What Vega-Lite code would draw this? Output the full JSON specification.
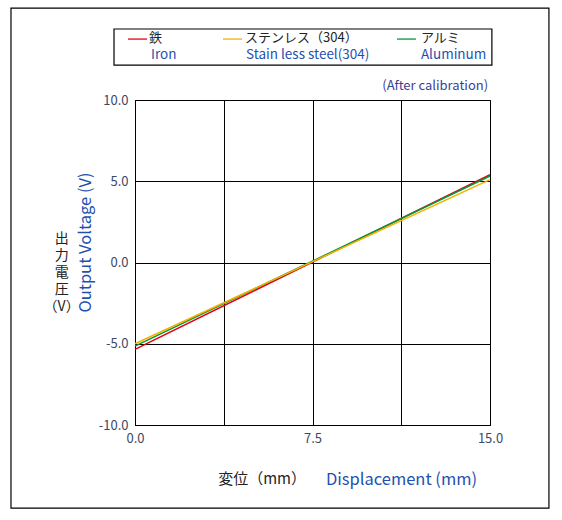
{
  "$schema": "https://vega.github.io/schema/vega-lite/v6.json",
  "width": 355,
  "height": 325,
  "autosize": {"type": "none"},
  "padding": {"left": 135, "top": 100, "right": 72, "bottom": 95},
  "background": "white",
  "data": {"values": [{}]},
  "config": {
    "font": "Noto Sans CJK JP",
    "view": {"stroke": "#000", "strokeWidth": 1},
    "axis": {
      "grid": true, "gridColor": "#000", "gridOpacity": 1, "gridWidth": 1,
      "domainColor": "#000", "ticks": false, "labelFontSize": 13, "labelColor": "#3c4868",
      "labelPadding": 7, "labelFont": "Noto Sans CJK JP", "titleFont": "Noto Sans CJK JP",
      "titleFontWeight": "normal", "titleColor": "#1f50b0", "titleFontSize": 16.5, "labelFlush": false
    }
  },
  "layer": [
    {
      "mark": {"type": "rect", "fill": null, "stroke": "#000", "strokeWidth": 1.2, "clip": false},
      "encoding": {
        "x": {"datum": -5.24, "type": "quantitative", "scale": {"domain": [0, 15], "nice": false, "zero": false}},
        "x2": {"datum": 17.49},
        "y": {"datum": 15.66, "type": "quantitative", "scale": {"domain": [-10, 10], "nice": false, "zero": false}},
        "y2": {"datum": -15.11}
      }
    },
    {
      "data": {"values": [
        {"series": "鉄", "x": 0, "y": -5.35},
        {"series": "鉄", "x": 15, "y": 5.4},
        {"series": "アルミ", "x": 0, "y": -5.15},
        {"series": "アルミ", "x": 15, "y": 5.32},
        {"series": "ステンレス", "x": 0, "y": -5.0},
        {"series": "ステンレス", "x": 15, "y": 5.1}
      ]},
      "mark": {"type": "line", "strokeWidth": 1.5},
      "encoding": {
        "x": {"field": "x", "type": "quantitative", "scale": {"domain": [0, 15], "nice": false, "zero": false},
          "axis": {"values": [0, 3.75, 7.5, 11.25, 15], "labelExpr": "datum.value % 7.5 == 0 ? format(datum.value, '.1f') : ''",
            "title": "Displacement (mm)", "titleX": 266, "titleY": 54, "titleBaseline": "middle", "titleAlign": "center"}},
        "y": {"field": "y", "type": "quantitative", "scale": {"domain": [-10, 10], "nice": false, "zero": false},
          "axis": {"values": [-10, -5, 0, 5, 10], "labelExpr": "replace(format(datum.value, '.1f'), '−', '-')",
            "title": "Output Voltage (V)", "titleX": -50, "titleY": 142, "titleBaseline": "middle", "titleAlign": "center", "titleAngle": -90}},
        "color": {"field": "series", "type": "nominal", "legend": null,
          "scale": {"domain": ["鉄", "アルミ", "ステンレス"], "range": ["#e60012", "#00983a", "#f5b000"]}},
        "order": {"field": "series"}
      }
    },
    {
      "mark": {"type": "text", "fontSize": 14, "lineHeight": 17, "color": "#222", "align": "center", "baseline": "middle", "lineBreak": "\n"},
      "encoding": {
        "x": {"datum": -3.1, "type": "quantitative"},
        "y": {"datum": 1.45, "type": "quantitative"},
        "text": {"value": "出\n力\n電\n圧\n（V）"}
      }
    },
    {
      "mark": {"type": "text", "fontSize": 15, "color": "#222", "align": "center", "baseline": "middle"},
      "encoding": {
        "x": {"datum": 5.37, "type": "quantitative"},
        "y": {"datum": -13.32, "type": "quantitative"},
        "text": {"value": "変位（mm）"}
      }
    },
    {
      "mark": {"type": "text", "fontSize": 13, "color": "#3a3f95", "align": "right", "baseline": "middle"},
      "encoding": {
        "x": {"datum": 14.92, "type": "quantitative"},
        "y": {"datum": 10.86, "type": "quantitative"},
        "text": {"value": "(After calibration)"}
      }
    },
    {
      "mark": {"type": "rect", "fill": "white", "stroke": "#000", "strokeWidth": 1.2},
      "encoding": {
        "x": {"datum": -0.887, "type": "quantitative"},
        "x2": {"datum": 15.08},
        "y": {"datum": 14.37, "type": "quantitative"},
        "y2": {"datum": 12.15}
      }
    },
    {
      "mark": {"type": "rule", "color": "#e60012", "strokeWidth": 1.3},
      "encoding": {"x": {"datum": -0.296, "type": "quantitative"}, "x2": {"datum": 0.507}, "y": {"datum": 13.75, "type": "quantitative"}}
    },
    {
      "mark": {"type": "rule", "color": "#f5b000", "strokeWidth": 1.3},
      "encoding": {"x": {"datum": 3.718, "type": "quantitative"}, "x2": {"datum": 4.521}, "y": {"datum": 13.75, "type": "quantitative"}}
    },
    {
      "mark": {"type": "rule", "color": "#00983a", "strokeWidth": 1.3},
      "encoding": {"x": {"datum": 11.07, "type": "quantitative"}, "x2": {"datum": 11.87}, "y": {"datum": 13.75, "type": "quantitative"}}
    },
    {
      "mark": {"type": "text", "fontSize": 13, "color": "#222", "align": "left", "baseline": "middle"},
      "encoding": {"x": {"datum": 0.59, "type": "quantitative"}, "y": {"datum": 13.82, "type": "quantitative"}, "text": {"value": "鉄"}}
    },
    {
      "mark": {"type": "text", "fontSize": 13, "color": "#222", "align": "left", "baseline": "middle"},
      "encoding": {"x": {"datum": 4.65, "type": "quantitative"}, "y": {"datum": 13.82, "type": "quantitative"}, "text": {"value": "ステンレス（304）"}}
    },
    {
      "mark": {"type": "text", "fontSize": 13, "color": "#222", "align": "left", "baseline": "middle"},
      "encoding": {"x": {"datum": 12.08, "type": "quantitative"}, "y": {"datum": 13.82, "type": "quantitative"}, "text": {"value": "アルミ"}}
    },
    {
      "mark": {"type": "text", "fontSize": 13.5, "color": "#1f50b0", "align": "left", "baseline": "middle"},
      "encoding": {"x": {"datum": 0.676, "type": "quantitative"}, "y": {"datum": 12.8, "type": "quantitative"}, "text": {"value": "Iron"}}
    },
    {
      "mark": {"type": "text", "fontSize": 13.5, "color": "#1f50b0", "align": "left", "baseline": "middle"},
      "encoding": {"x": {"datum": 4.69, "type": "quantitative"}, "y": {"datum": 12.8, "type": "quantitative"}, "text": {"value": "Stain less steel(304)"}}
    },
    {
      "mark": {"type": "text", "fontSize": 13.5, "color": "#1f50b0", "align": "left", "baseline": "middle"},
      "encoding": {"x": {"datum": 12.08, "type": "quantitative"}, "y": {"datum": 12.8, "type": "quantitative"}, "text": {"value": "Aluminum"}}
    }
  ]
}
